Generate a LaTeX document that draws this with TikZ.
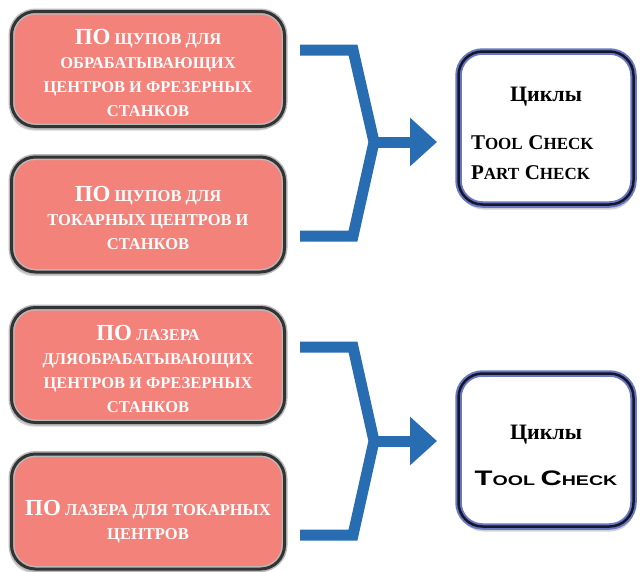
\documentclass[tikz,border=0pt]{standalone}
\usepackage{fontspec}
\setmainfont{Liberation Serif}
\newfontfamily\widesans[FakeStretch=1.4]{Liberation Sans}
\usepackage{tikz}
\usetikzlibrary{arrows.meta,positioning,shadows}

\definecolor{salmon}{RGB}{242,130,122}
\definecolor{braceblue}{RGB}{40,108,178}
\definecolor{rimblue}{RGB}{105,120,190}
\definecolor{rimdark}{RGB}{20,22,45}

\newcommand{\padtop}[1]{\rule{0pt}{#1}}
\newcommand{\bigPO}{{\fontsize{23}{24}\selectfont ПО}}
\newcommand{\capbig}[1]{{\fontsize{21}{24}\selectfont #1}}
\newcommand{\capwide}[1]{{\fontsize{21}{24}\selectfont #1}}

\begin{document}
\begin{tikzpicture}[
  x=1pt, y=-1pt,
  swbox/.style={draw=gray!55, double=black!80, line width=1.5pt, double distance=3pt,
    fill=salmon, rounded corners=24pt, minimum width=273pt, minimum height=115pt,
    align=center, text=white, font=\fontsize{16.5}{24}\selectfont\bfseries,
    drop shadow={shadow xshift=-2pt, shadow yshift=-4pt, opacity=.35}},
  cycbox/.style={draw=rimblue, double=rimdark, line width=2pt, double distance=2.5pt,
    fill=white, rounded corners=24pt, minimum width=175pt, minimum height=153pt,
    drop shadow={shadow xshift=1pt, shadow yshift=-5pt, opacity=.35}},
  brace/.style={draw=braceblue, line width=11pt, line join=miter},
  tip/.style={-{Triangle[length=27pt,width=47pt]}}
]
\useasboundingbox (0,0) rectangle (640,571);

% software boxes
\node[swbox] (probemill) at (148,69) {\padtop{23pt}\bigPO\ ЩУПОВ ДЛЯ\\ОБРАБАТЫВАЮЩИХ\\ЦЕНТРОВ И ФРЕЗЕРНЫХ\\СТАНКОВ};
\node[swbox, below=29pt of probemill] (probelathe) {\padtop{23pt}\bigPO\ ЩУПОВ ДЛЯ\\ТОКАРНЫХ ЦЕНТРОВ И\\СТАНКОВ};
\node[swbox, below=34pt of probelathe] (lasermill) {\padtop{23pt}\bigPO\ ЛАЗЕРА\\ДЛЯОБРАБАТЫВАЮЩИХ\\ЦЕНТРОВ И ФРЕЗЕРНЫХ\\СТАНКОВ};
\node[swbox, below=30pt of lasermill] (laserlathe) {\padtop{36pt}\bigPO\ ЛАЗЕРА ДЛЯ ТОКАРНЫХ\\ЦЕНТРОВ};

% cycle boxes
\node[cycbox, align=left, text width=150pt, font=\fontsize{17}{30}\selectfont\bfseries] (cycprobe) at (546,128)
  {\padtop{25pt}\makebox[\linewidth][c]{\fontsize{22}{26}\selectfont Циклы}\\[18pt]
   \capbig{T}OOL \capbig{C}HECK\\\capbig{P}ART \capbig{C}HECK};
\node[cycbox, align=center, font=\fontsize{14}{26}\selectfont\bfseries] (cyclaser) at (546,450)
  {\padtop{25pt}{\fontsize{22}{26}\selectfont Циклы}\\[20pt]
   {\widesans\capwide{T}OOL \capwide{C}HECK}};

% brackets
\coordinate (pa) at (300,50);
\coordinate (pb) at (353,50);
\coordinate (pj) at (374,142);
\coordinate (pc) at (353,236);
\coordinate (pd) at (300,236);
\coordinate (pt) at (437,142);
\draw[brace] (pa) -- (pb) -- (pj) -- (pc) -- (pd);
\draw[brace, tip] (pj) -- (pt);

\coordinate (la) at (300,347);
\coordinate (lb) at (353,347);
\coordinate (lj) at (374,441);
\coordinate (lc) at (353,535);
\coordinate (ld) at (300,535);
\coordinate (lt) at (437,441);
\draw[brace] (la) -- (lb) -- (lj) -- (lc) -- (ld);
\draw[brace, tip] (lj) -- (lt);
\end{tikzpicture}
\end{document}
